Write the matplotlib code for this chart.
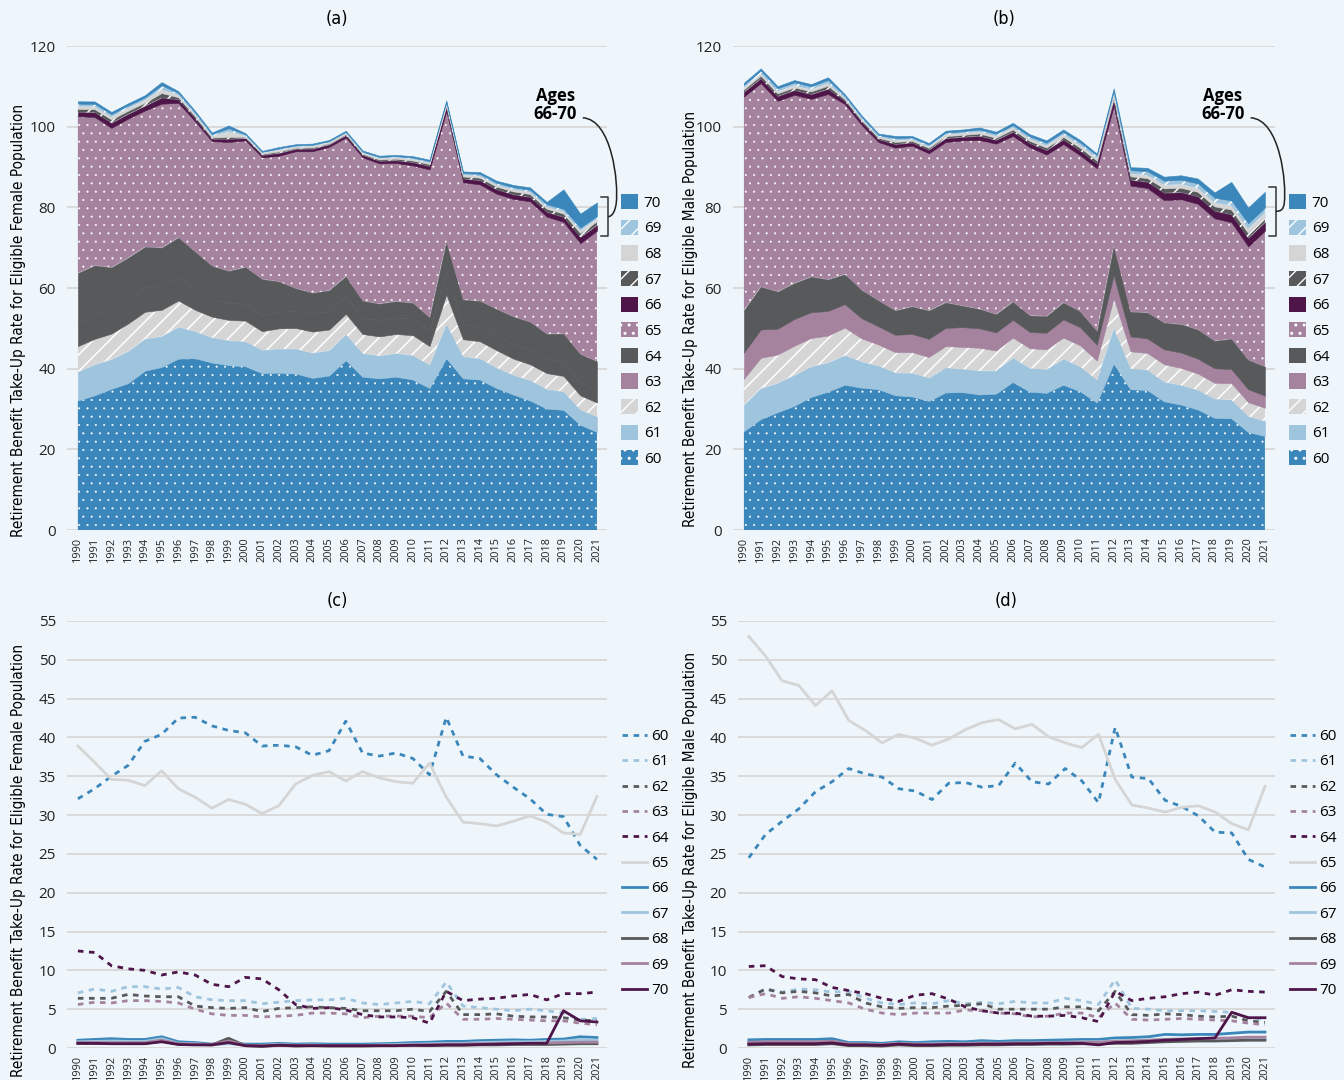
import numpy as np
import matplotlib.pyplot as plt
from matplotlib import font_manager
from matplotlib.font_manager import FontProperties
from matplotlib.patches import Patch, PathPatch
from matplotlib.lines import Line2D
from matplotlib.path import Path

years = list(range(1990, 2022))
ages = ['60', '61', '62', '63', '64', '65', '66', '67', '68', '69', '70']

# female take-up rates by age
f60 = [32.1, 33.4, 35.0, 36.4, 39.5, 40.4, 42.5, 42.6, 41.5, 40.9, 40.6, 38.9, 39.0, 38.8, 37.7, 38.3, 42.1, 38.0,
       37.6, 38.0, 37.3, 35.2, 42.6, 37.6, 37.3, 35.2, 33.6, 32.1, 30.1, 29.8, 26.1, 24.3]
f61 = [7.1, 7.6, 7.3, 7.9, 7.9, 7.6, 7.8, 6.6, 6.2, 6.1, 6.1, 5.7, 5.9, 6.1, 6.2, 6.2, 6.4, 5.8,
       5.6, 5.8, 6.0, 5.7, 8.5, 5.4, 5.2, 5.0, 4.8, 5.0, 4.8, 4.5, 3.7, 3.8]
f62 = [6.4, 6.4, 6.4, 6.9, 6.7, 6.6, 6.6, 5.4, 5.2, 5.1, 5.2, 4.7, 5.1, 5.2, 5.3, 5.2, 5.1, 4.8,
       4.8, 4.8, 5.0, 4.7, 7.3, 4.3, 4.3, 4.4, 4.1, 4.0, 4.0, 3.9, 3.6, 3.5]
f63 = [5.6, 5.9, 5.8, 6.1, 6.1, 6.0, 5.8, 5.0, 4.4, 4.2, 4.2, 4.0, 4.1, 4.2, 4.5, 4.5, 4.4, 3.9,
       4.1, 4.1, 4.1, 3.9, 5.8, 3.7, 3.7, 3.8, 3.7, 3.6, 3.5, 3.5, 3.2, 3.0]
f64 = [12.5, 12.3, 10.6, 10.2, 10.0, 9.4, 9.8, 9.4, 8.2, 7.9, 9.1, 8.9, 7.5, 5.6, 5.1, 5.2, 4.9, 4.3,
       4.0, 4.0, 3.9, 3.2, 7.3, 6.1, 6.3, 6.4, 6.7, 6.9, 6.2, 7.0, 7.0, 7.2]
f65 = [38.9, 36.8, 34.6, 34.5, 33.8, 35.7, 33.4, 32.3, 30.9, 32.0, 31.4, 30.2, 31.2, 34.0, 35.1, 35.6, 34.4, 35.6,
       34.8, 34.3, 34.1, 36.7, 32.3, 29.1, 28.9, 28.6, 29.2, 29.9, 29.1, 27.7, 27.5, 32.4]
f66 = [1.0, 1.1, 1.2, 1.1, 1.1, 1.45, 0.8, 0.7, 0.5, 0.7, 0.5, 0.5, 0.6, 0.5, 0.55, 0.5, 0.5, 0.5,
       0.55, 0.6, 0.7, 0.75, 0.85, 0.85, 0.95, 1.0, 1.05, 1.0, 1.1, 1.15, 1.45, 1.35]
f67 = [0.8, 0.85, 0.9, 0.85, 0.85, 1.2, 0.6, 0.55, 0.4, 0.55, 0.35, 0.35, 0.45, 0.35, 0.4, 0.35, 0.35, 0.35,
       0.4, 0.45, 0.5, 0.55, 0.6, 0.6, 0.7, 0.75, 0.8, 0.8, 0.85, 0.9, 1.1, 1.0]
f68 = [0.6, 0.6, 0.6, 0.6, 0.6, 0.9, 0.5, 0.45, 0.4, 1.25, 0.3, 0.2, 0.35, 0.25, 0.3, 0.25, 0.25, 0.25,
       0.3, 0.3, 0.35, 0.3, 0.35, 0.35, 0.4, 0.4, 0.45, 0.45, 0.45, 0.5, 0.55, 0.55]
f69 = [0.7, 0.7, 0.7, 0.7, 0.7, 1.0, 0.55, 0.5, 0.45, 0.9, 0.35, 0.3, 0.4, 0.35, 0.35, 0.3, 0.3, 0.3,
       0.35, 0.35, 0.4, 0.45, 0.5, 0.5, 0.55, 0.55, 0.6, 0.6, 0.65, 0.7, 0.75, 0.75]
f70 = [0.6, 0.6, 0.55, 0.55, 0.55, 0.8, 0.45, 0.4, 0.4, 0.7, 0.3, 0.25, 0.35, 0.3, 0.3, 0.3, 0.3, 0.3,
       0.3, 0.3, 0.35, 0.35, 0.4, 0.4, 0.45, 0.5, 0.55, 0.6, 0.6, 4.8, 3.5, 3.35]

# male take-up rates by age
m60 = [24.5, 27.5, 29.2, 30.8, 33.0, 34.3, 36.0, 35.3, 34.9, 33.4, 33.1, 32.0, 34.1, 34.2, 33.6, 33.8, 36.7, 34.3,
       34.0, 36.0, 34.4, 31.6, 41.3, 34.9, 34.7, 31.9, 31.1, 29.9, 27.8, 27.7, 24.3, 23.3]
m61 = [6.5, 7.6, 7.2, 7.6, 7.5, 7.2, 7.3, 6.4, 5.8, 5.6, 5.8, 5.7, 6.1, 5.7, 5.9, 5.7, 6.0, 5.8,
       5.8, 6.4, 6.1, 5.6, 8.8, 5.1, 5.0, 4.8, 4.8, 4.8, 4.7, 4.6, 3.9, 3.7]
m62 = [6.5, 7.6, 7.1, 7.3, 7.1, 6.7, 6.9, 5.8, 5.3, 5.1, 5.2, 5.2, 5.4, 5.5, 5.7, 5.0, 5.0, 5.0,
       5.0, 5.3, 5.3, 4.8, 7.3, 4.3, 4.2, 4.4, 4.3, 4.1, 4.0, 4.1, 3.5, 3.3]
m63 = [6.5, 7.0, 6.4, 6.6, 6.4, 6.1, 5.8, 5.0, 4.5, 4.3, 4.5, 4.5, 4.5, 4.9, 4.8, 4.5, 4.4, 4.0,
       4.1, 4.5, 4.5, 3.9, 5.8, 3.7, 3.6, 3.7, 3.8, 3.7, 3.6, 3.5, 3.2, 3.0]
m64 = [10.5, 10.6, 9.2, 8.9, 8.8, 7.8, 7.4, 7.0, 6.4, 6.0, 6.8, 7.0, 6.3, 5.3, 4.8, 4.5, 4.5, 4.1,
       4.1, 4.2, 3.9, 3.4, 7.3, 6.1, 6.4, 6.6, 7.0, 7.2, 6.8, 7.5, 7.3, 7.2]
m65 = [53.0, 50.5, 47.3, 46.7, 44.1, 46.0, 42.2, 40.9, 39.3, 40.4, 39.9, 39.0, 39.8, 41.0, 41.9, 42.3, 41.1, 41.7,
       40.1, 39.3, 38.7, 40.4, 34.6, 31.3, 30.9, 30.4, 31.0, 31.2, 30.4, 28.9, 28.1, 33.7]
m66 = [1.05, 1.1, 1.1, 1.1, 1.1, 1.2, 0.7, 0.7, 0.6, 0.8, 0.7, 0.8, 0.85, 0.8, 0.95, 0.85, 0.95, 0.95,
       1.0, 1.05, 1.1, 1.1, 1.3, 1.35, 1.45, 1.75, 1.7, 1.75, 1.75, 1.9, 2.05, 2.05]
m67 = [0.7, 0.75, 0.75, 0.75, 0.75, 0.85, 0.5, 0.5, 0.45, 0.6, 0.5, 0.55, 0.6, 0.55, 0.65, 0.6, 0.65, 0.65,
       0.7, 0.75, 0.8, 0.8, 0.95, 0.95, 1.0, 1.15, 1.15, 1.2, 1.2, 1.25, 1.3, 1.3]
m68 = [0.4, 0.45, 0.45, 0.45, 0.45, 0.55, 0.3, 0.3, 0.25, 0.4, 0.3, 0.3, 0.35, 0.35, 0.4, 0.4, 0.45, 0.45,
       0.5, 0.5, 0.55, 0.55, 0.6, 0.6, 0.7, 0.8, 0.85, 0.9, 0.9, 0.95, 1.0, 1.0]
m69 = [0.75, 0.8, 0.8, 0.8, 0.8, 0.9, 0.55, 0.5, 0.45, 0.6, 0.5, 0.5, 0.55, 0.55, 0.6, 0.6, 0.65, 0.65,
       0.7, 0.7, 0.75, 0.75, 0.85, 0.9, 1.0, 1.1, 1.15, 1.2, 1.25, 1.3, 1.4, 1.4]
m70 = [0.5, 0.55, 0.55, 0.55, 0.55, 0.65, 0.4, 0.4, 0.35, 0.5, 0.4, 0.4, 0.45, 0.45, 0.5, 0.5, 0.55, 0.55,
       0.6, 0.6, 0.6, 0.4, 0.7, 0.75, 0.85, 1.0, 1.1, 1.2, 1.3, 4.6, 3.9, 3.9]

female = [f60, f61, f62, f63, f64, f65, f66, f67, f68, f69, f70]
male = [m60, m61, m62, m63, m64, m65, m66, m67, m68, m69, m70]

BLUE, LBLUE, LGRAY, MAUVE, DGRAY, PURPLE = '#3b87bb', '#9fc4de', '#d5d5d5', '#a5839f', '#58595b', '#4e1548'
stack_colors = [BLUE, LBLUE, LGRAY, MAUVE, DGRAY, MAUVE, PURPLE, DGRAY, LGRAY, LBLUE, BLUE]
stack_hatch = ['..', None, '//', None, None, '..', None, '//', None, '//', None]
line_colors = [BLUE, LBLUE, DGRAY, MAUVE, PURPLE, LGRAY, BLUE, LBLUE, DGRAY, MAUVE, PURPLE]

plt.rcParams['font.family'] = ['Open Sans', 'DejaVu Sans']
BG = '#eef6fb'


# a condensed face for titles / axis labels, if one is installed
def find_narrow():
    best = None
    for f in font_manager.fontManager.ttflist:
        st = f.stretch
        if isinstance(st, str):
            st = font_manager.stretch_dict.get(st, 500)
        w = f.weight
        if isinstance(w, str):
            w = font_manager.weight_dict.get(w, 400)
        if f.style != 'normal' or w != 400:
            continue
        if f.name == 'Liberation Sans Narrow':
            return f.fname
        if st <= 400 and best is None:
            best = f.fname
    return best


narrow_file = find_narrow()
if narrow_file:
    TITLE_FP = FontProperties(fname=narrow_file, size=13)
    LABEL_FP = FontProperties(fname=narrow_file, size=11)
else:
    TITLE_FP = FontProperties(family='Liberation Sans', size=13)
    LABEL_FP = FontProperties(family='Liberation Sans', size=10)

fig = plt.figure(figsize=(13.44, 10.8), dpi=100, facecolor=BG)
W, H = 1344, 1080


def box(x0, y0, x1, y1):
    return [x0 / W, 1 - y1 / H, (x1 - x0) / W, (y1 - y0) / H]


ax_a = fig.add_axes(box(67, 46, 607, 530))
ax_b = fig.add_axes(box(733, 46, 1275, 530))
ax_c = fig.add_axes(box(67, 621, 607, 1048))
ax_d = fig.add_axes(box(738, 621, 1275, 1048))


def style(ax, ymax, step, title, ylabel, lab_xy, tpad):
    ax.set_facecolor('none')
    for s in ax.spines.values():
        s.set_visible(False)
    ax.set_xlim(1989.35, 2021.6)
    ax.set_ylim(0, ymax)
    ax.set_yticks(np.arange(0, ymax + 1, step))
    ax.set_xticks(years)
    ax.set_xticklabels([str(y) for y in years], rotation=90, fontsize=7.8)
    ax.tick_params(axis='both', length=0, colors='#222222')
    ax.tick_params(axis='y', labelsize=11, pad=8)
    ax.tick_params(axis='x', pad=5)
    ax.grid(axis='y', color='#d8d8d8', linewidth=1.3)
    ax.set_axisbelow(True)
    ax.set_title(title, fontproperties=TITLE_FP, pad=tpad)
    ax.set_ylabel(ylabel, fontproperties=LABEL_FP, va='center')
    ax.yaxis.set_label_coords(*lab_xy)


def stacked(ax, data, colors):
    base = np.zeros(len(years))
    for vals, c, h in zip(data, colors, stack_hatch):
        top = base + np.array(vals)
        if h == '..':
            with plt.rc_context({'hatch.linewidth': 0.25}):
                ax.fill_between(years, base, top, facecolor=c, edgecolor='white', hatch=h, linewidth=0, zorder=2)
        elif h:
            with plt.rc_context({'hatch.linewidth': 1.1}):
                ax.fill_between(years, base, top, facecolor=c, edgecolor='white', hatch=h, linewidth=0, zorder=2)
        else:
            ax.fill_between(years, base, top, facecolor=c, edgecolor=c, linewidth=0.4, zorder=2)
        base = top
    handles = []
    for c, h in zip(stack_colors, stack_hatch):
        with plt.rc_context({'hatch.linewidth': 0.25 if h == '..' else 1.1}):
            handles.append(Patch(facecolor=c, edgecolor='white' if h else c, hatch=h, linewidth=0))
    ax.legend(handles[::-1], ages[::-1], loc='center left', bbox_to_anchor=(1.0, 0.412), frameon=False,
              fontsize=11, handlelength=1.15, handleheight=1.15, labelspacing=0.58, handletextpad=0.35,
              borderaxespad=0.5)
    # bracket for ages 66-70 at the last year
    lo = sum(d[-1] for d in data[:6])
    hi = sum(d[-1] for d in data)
    mid = (hi + lo) / 2
    xb = 2021.66
    ax.plot([xb - 0.4, xb, xb, xb - 0.4], [hi + 1.3, hi + 1.3, lo - 1.3, lo - 1.3], color='#333333',
            lw=1.1, clip_on=False, zorder=5)
    ax.text(2018.5, 105.4, 'Ages\n66-70', fontsize=12, fontweight='bold', ha='center', va='center',
            linespacing=1.0, zorder=6)
    verts = [(2020.15, 102.2), (2021.9, 101.8), (2022.3, 86.0), (2022.15, 81.0),
             (2022.1, 79.4), (2021.95, mid), (xb, mid)]
    codes = [Path.MOVETO, Path.CURVE4, Path.CURVE4, Path.CURVE4, Path.CURVE4, Path.CURVE4, Path.CURVE4]
    ax.add_patch(PathPatch(Path(verts, codes), facecolor='none', edgecolor='#222222', lw=1.1,
                           clip_on=False, zorder=5))


def lines(ax, data):
    for i, (vals, c) in enumerate(zip(data, line_colors)):
        ls = (0, (2, 2)) if i < 5 else '-'
        ax.plot(years, vals, color=c, lw=2.0, linestyle=ls, zorder=3)
    handles = [Line2D([0], [0], color=c, lw=2.0, linestyle=(0, (2, 2)) if i < 5 else '-')
               for i, c in enumerate(line_colors)]
    ax.legend(handles, ages, loc='center left', bbox_to_anchor=(1.0, 0.432), frameon=False,
              fontsize=11, handlelength=1.6, labelspacing=0.68, handletextpad=0.3, borderaxespad=0.6)


stack_a = list(stack_colors)
stack_a[3] = DGRAY  # panel (a) shows age 63 in the same tone as 64

style(ax_a, 120, 20, '(a)', 'Retirement Benefit Take-Up Rate for Eligible Female Population', (-0.09, 0.434), 16)
stacked(ax_a, female, stack_a)
style(ax_b, 120, 20, '(b)', 'Retirement Benefit Take-Up Rate for Eligible Male Population', (-0.079, 0.436), 16)
stacked(ax_b, male, stack_colors)
style(ax_c, 55, 5, '(c)', 'Retirement Benefit Take-Up Rate for Eligible Female Population', (-0.09, 0.44), 11)
lines(ax_c, female)
style(ax_d, 55, 5, '(d)', 'Retirement Benefit Take-Up Rate for Eligible Male Population', (-0.089, 0.44), 11)
lines(ax_d, male)

fig.savefig('out.png', dpi=100, facecolor=BG)
